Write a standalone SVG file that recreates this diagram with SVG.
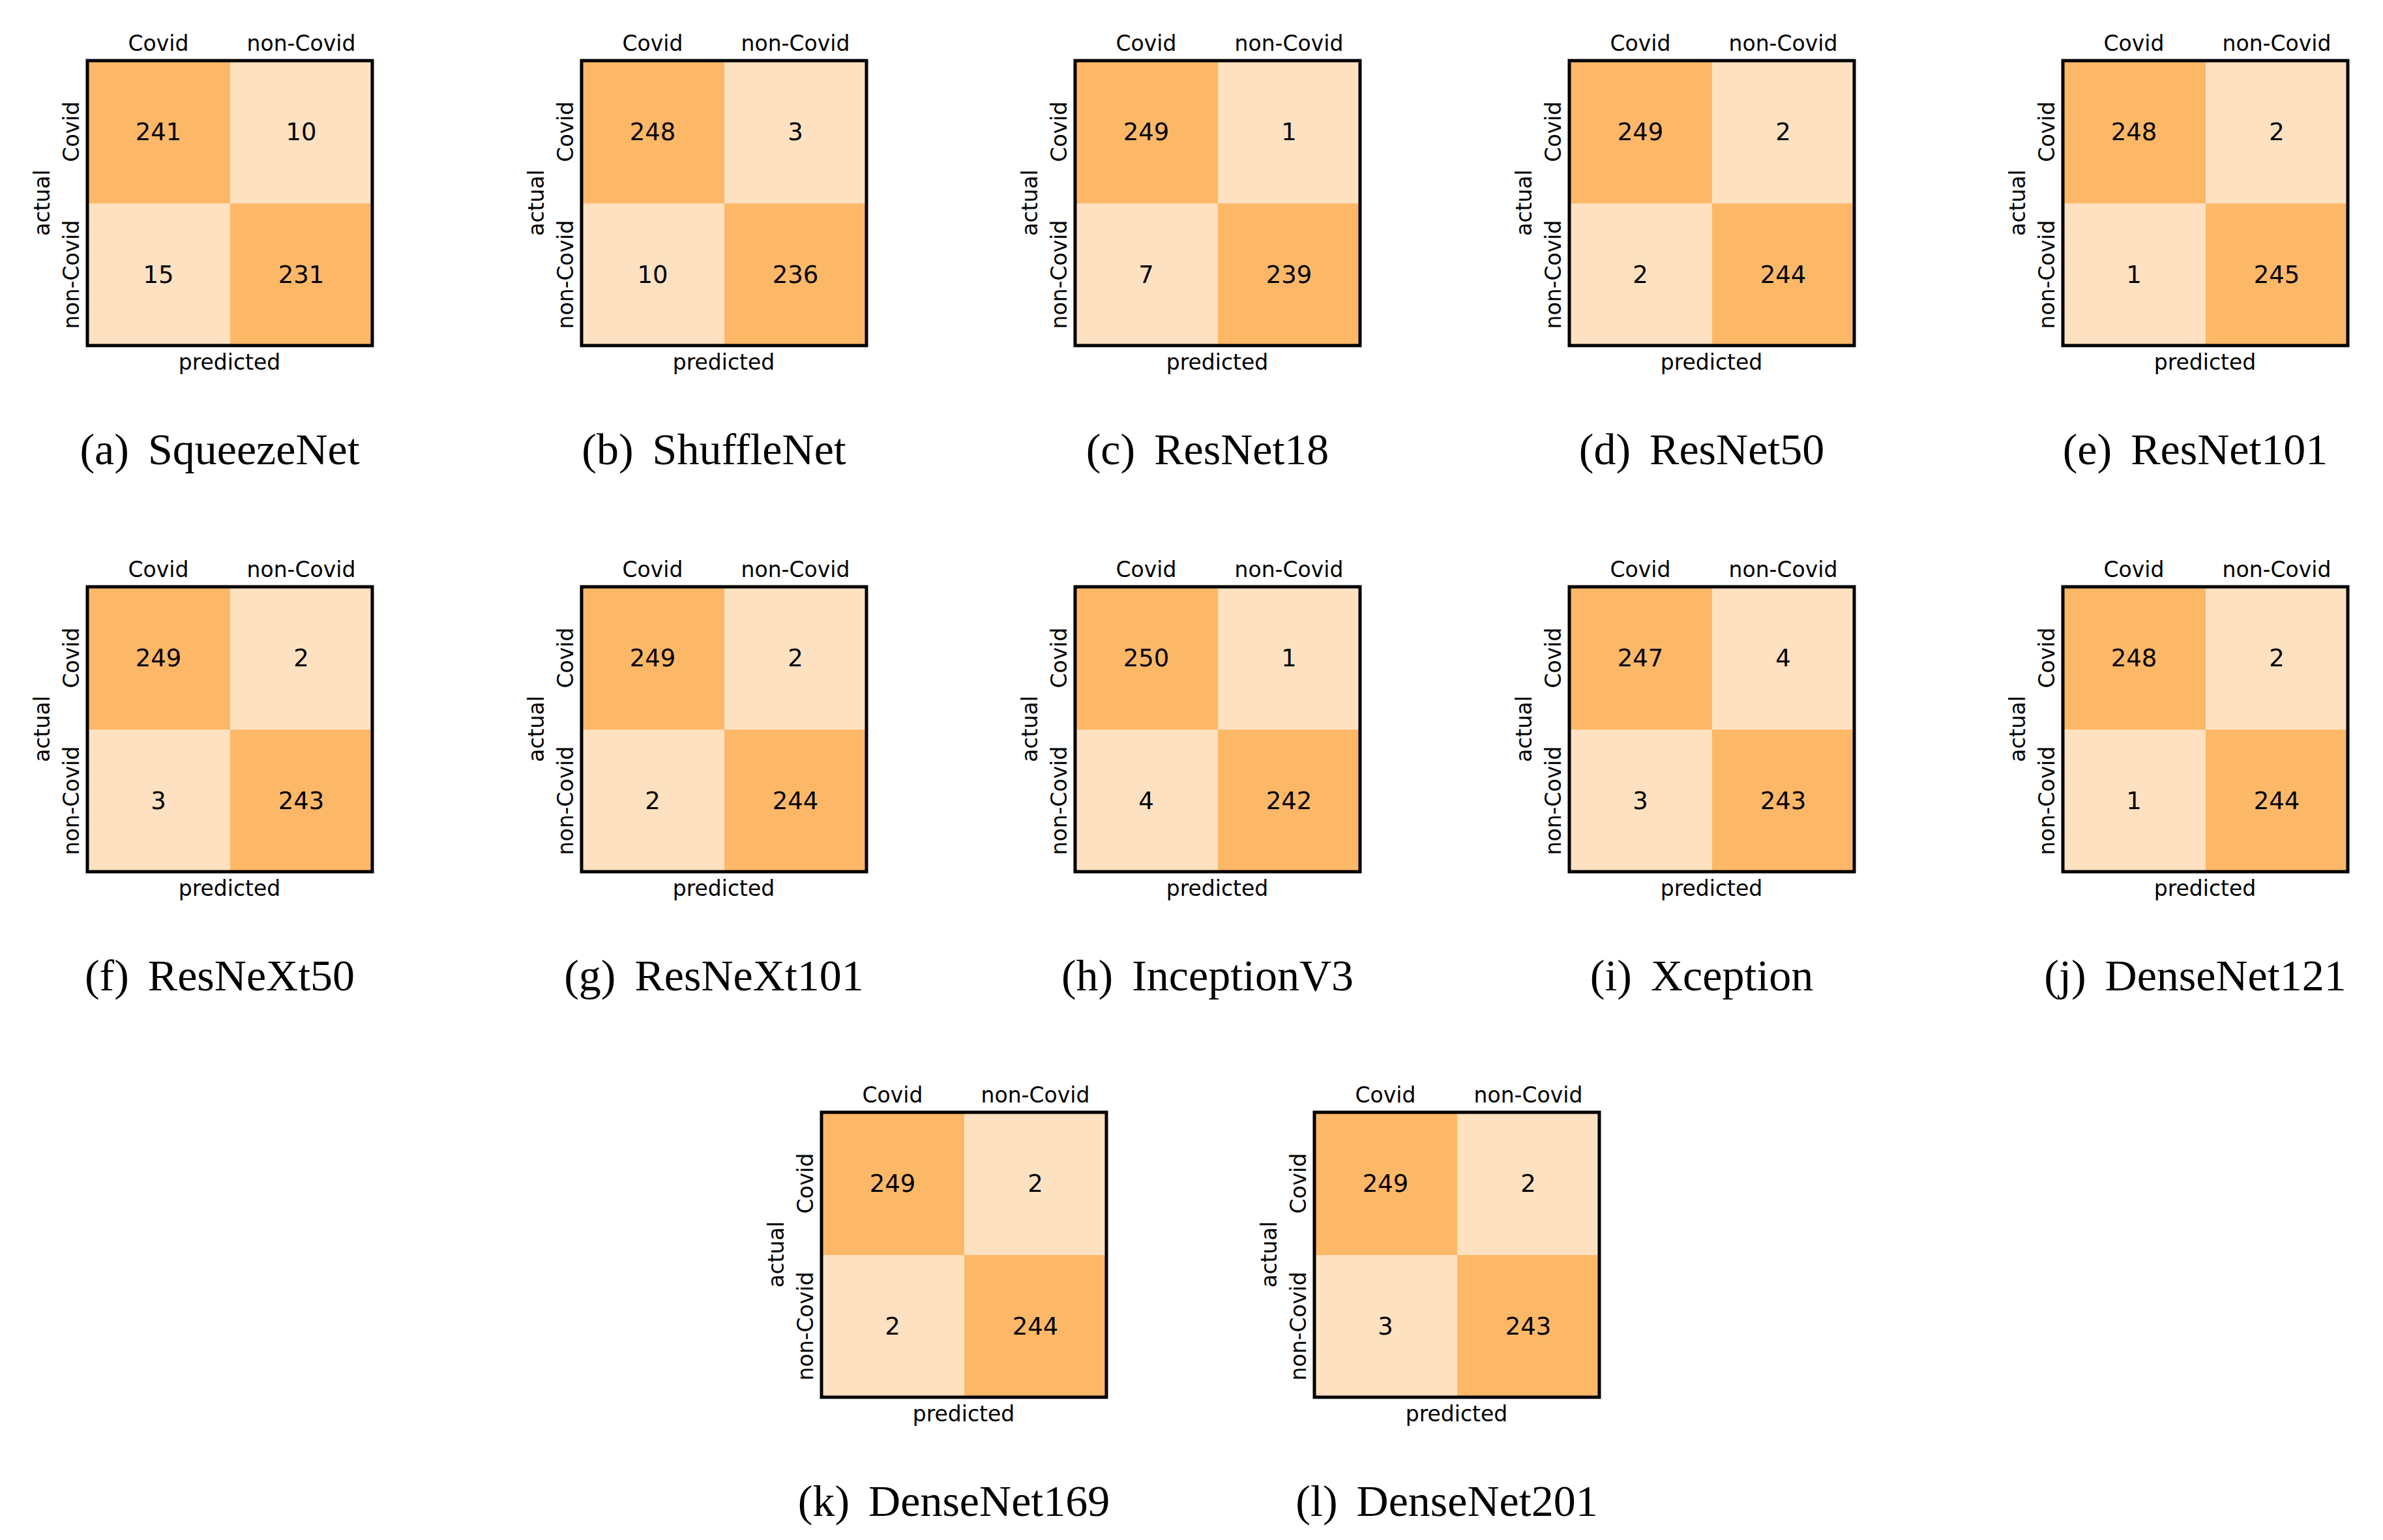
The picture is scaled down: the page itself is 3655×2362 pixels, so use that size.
<svg xmlns="http://www.w3.org/2000/svg" width="3655" height="2362" viewBox="0 0 3655 2362">
<style>
.d{fill:#fdb867}.l{fill:#fee1c0}.b{fill:none;stroke:#000;stroke-width:5}
.t{font-family:"DejaVu Sans",sans-serif;font-size:33px;text-anchor:middle;fill:#000}
.n{font-family:"DejaVu Sans",sans-serif;font-size:37px;text-anchor:middle;fill:#000}
.c{font-family:"Liberation Serif",serif;font-size:68px;text-anchor:middle;fill:#000;word-spacing:12px}
</style>
<defs>
<g id="m">
<rect class="d" x="0" y="0" width="219" height="219"/><rect class="l" x="219" y="0" width="218" height="219"/>
<rect class="l" x="0" y="219" width="219" height="218"/><rect class="d" x="219" y="219" width="218" height="218"/>
<rect class="b" x="0" y="0" width="437" height="437"/>
<text class="t" x="109" y="-15">Covid</text><text class="t" x="328" y="-15">non-Covid</text>
<text class="t" x="218" y="474">predicted</text>
<text class="t" transform="translate(-13,109) rotate(-90)">Covid</text>
<text class="t" transform="translate(-13,328) rotate(-90)">non-Covid</text>
<text class="t" transform="translate(-58,218) rotate(-90)">actual</text>
</g>
</defs>
<g id="a" transform="translate(134,93)"><use href="#m"/><text class="n" x="109" y="122">241</text><text class="n" x="328" y="122">10</text><text class="n" x="109" y="341">15</text><text class="n" x="328" y="341">231</text><text class="c" x="203" y="619">(a) SqueezeNet</text></g>
<g id="b" transform="translate(892,93)"><use href="#m"/><text class="n" x="109" y="122">248</text><text class="n" x="328" y="122">3</text><text class="n" x="109" y="341">10</text><text class="n" x="328" y="341">236</text><text class="c" x="203" y="619">(b) ShuffleNet</text></g>
<g id="c" transform="translate(1649,93)"><use href="#m"/><text class="n" x="109" y="122">249</text><text class="n" x="328" y="122">1</text><text class="n" x="109" y="341">7</text><text class="n" x="328" y="341">239</text><text class="c" x="203" y="619">(c) ResNet18</text></g>
<g id="d" transform="translate(2407,93)"><use href="#m"/><text class="n" x="109" y="122">249</text><text class="n" x="328" y="122">2</text><text class="n" x="109" y="341">2</text><text class="n" x="328" y="341">244</text><text class="c" x="203" y="619">(d) ResNet50</text></g>
<g id="e" transform="translate(3164,93)"><use href="#m"/><text class="n" x="109" y="122">248</text><text class="n" x="328" y="122">2</text><text class="n" x="109" y="341">1</text><text class="n" x="328" y="341">245</text><text class="c" x="203" y="619">(e) ResNet101</text></g>
<g id="f" transform="translate(134,900)"><use href="#m"/><text class="n" x="109" y="122">249</text><text class="n" x="328" y="122">2</text><text class="n" x="109" y="341">3</text><text class="n" x="328" y="341">243</text><text class="c" x="203" y="619">(f) ResNeXt50</text></g>
<g id="g" transform="translate(892,900)"><use href="#m"/><text class="n" x="109" y="122">249</text><text class="n" x="328" y="122">2</text><text class="n" x="109" y="341">2</text><text class="n" x="328" y="341">244</text><text class="c" x="203" y="619">(g) ResNeXt101</text></g>
<g id="h" transform="translate(1649,900)"><use href="#m"/><text class="n" x="109" y="122">250</text><text class="n" x="328" y="122">1</text><text class="n" x="109" y="341">4</text><text class="n" x="328" y="341">242</text><text class="c" x="203" y="619">(h) InceptionV3</text></g>
<g id="i" transform="translate(2407,900)"><use href="#m"/><text class="n" x="109" y="122">247</text><text class="n" x="328" y="122">4</text><text class="n" x="109" y="341">3</text><text class="n" x="328" y="341">243</text><text class="c" x="203" y="619">(i) Xception</text></g>
<g id="j" transform="translate(3164,900)"><use href="#m"/><text class="n" x="109" y="122">248</text><text class="n" x="328" y="122">2</text><text class="n" x="109" y="341">1</text><text class="n" x="328" y="341">244</text><text class="c" x="203" y="619">(j) DenseNet121</text></g>
<g id="k" transform="translate(1260,1706)"><use href="#m"/><text class="n" x="109" y="122">249</text><text class="n" x="328" y="122">2</text><text class="n" x="109" y="341">2</text><text class="n" x="328" y="341">244</text><text class="c" x="203" y="619">(k) DenseNet169</text></g>
<g id="l" transform="translate(2016,1706)"><use href="#m"/><text class="n" x="109" y="122">249</text><text class="n" x="328" y="122">2</text><text class="n" x="109" y="341">3</text><text class="n" x="328" y="341">243</text><text class="c" x="203" y="619">(l) DenseNet201</text></g>
</svg>
